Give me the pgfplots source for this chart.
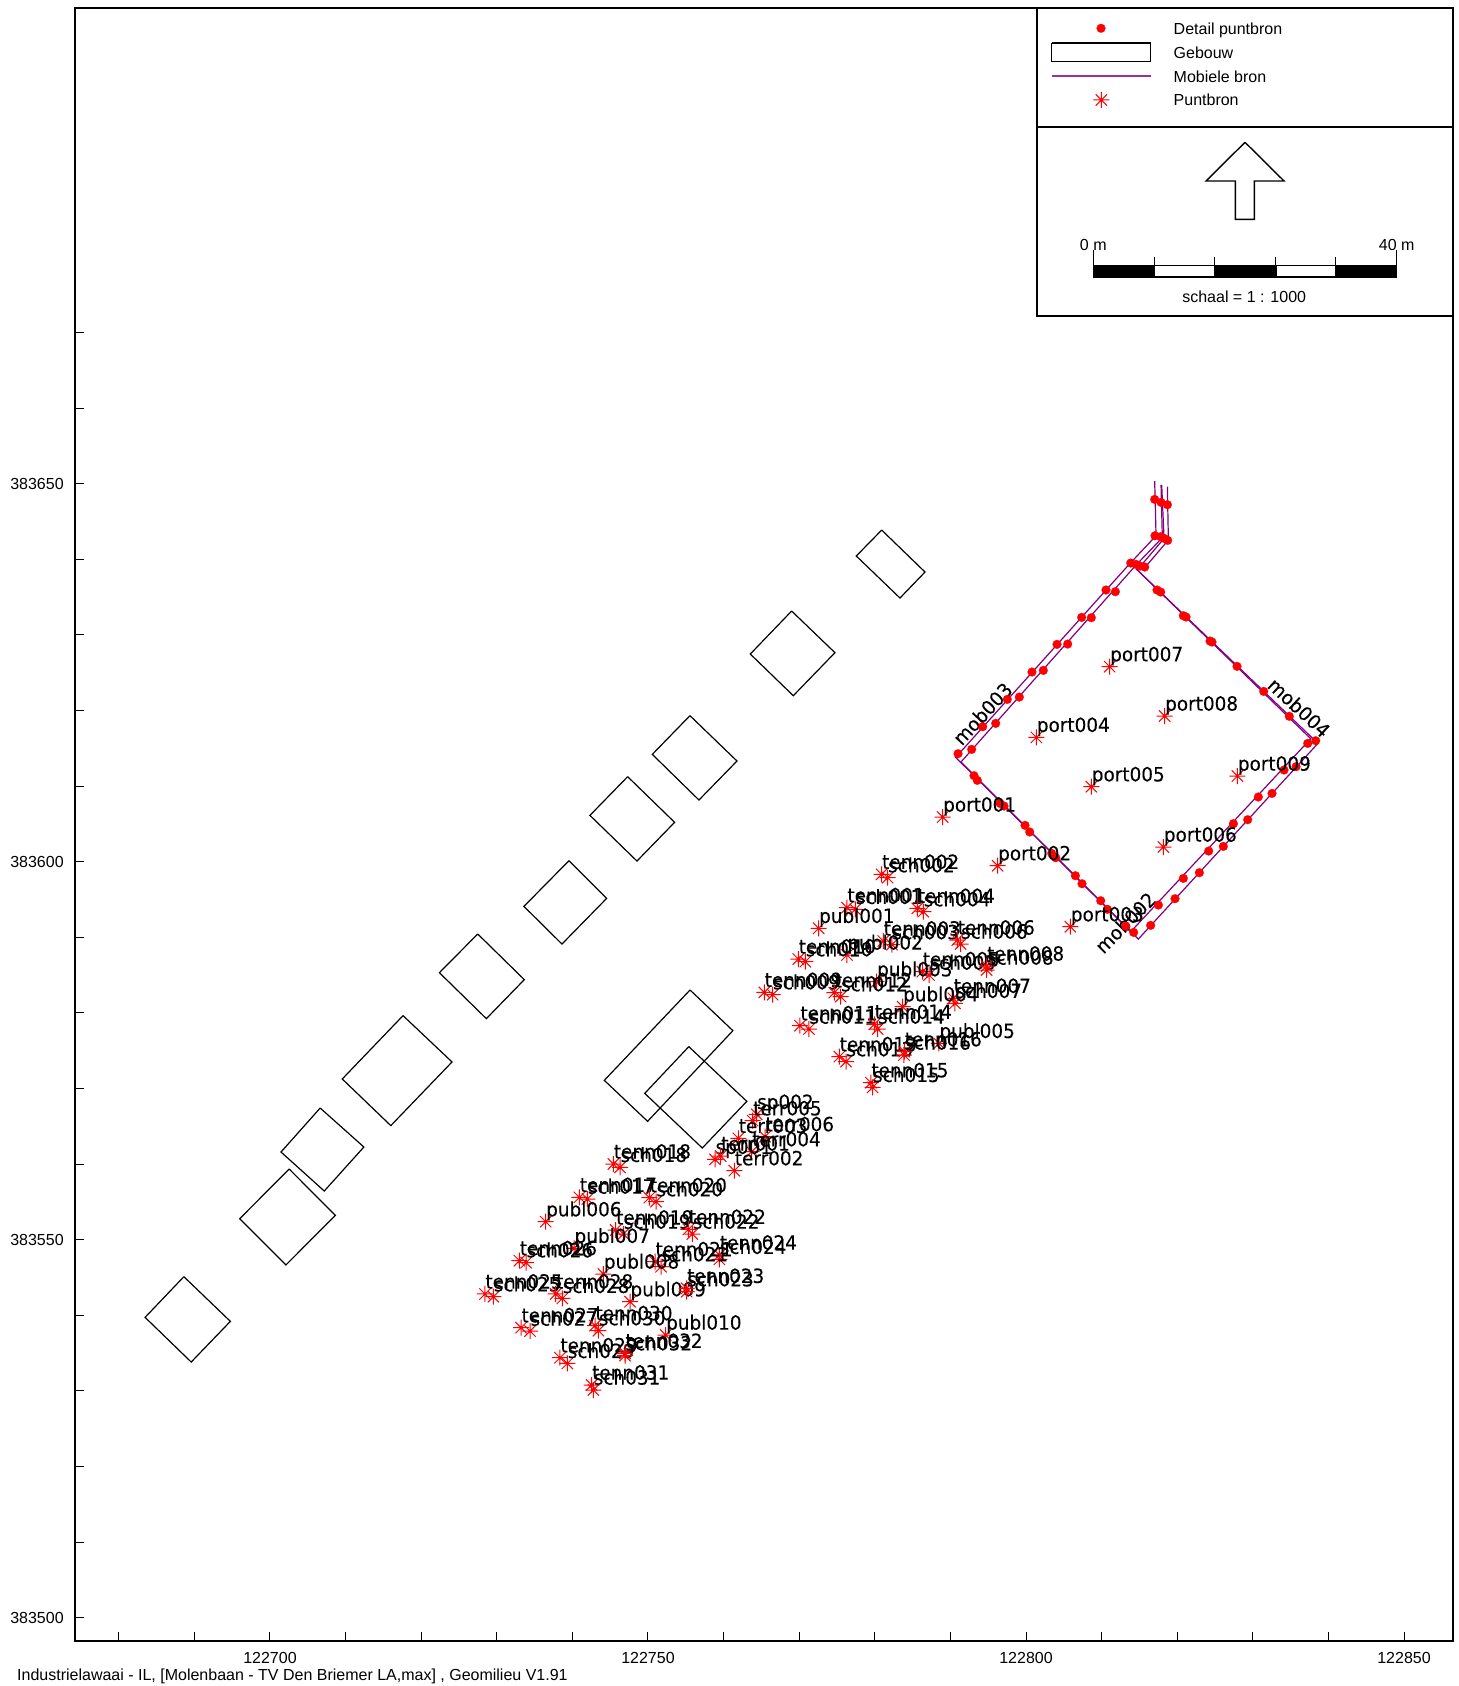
\documentclass[border=0pt]{standalone}
\usepackage{fontspec}
\setmainfont{Liberation Sans}
\newfontfamily\lblfont[FakeStretch=0.94,FakeBold=0.15]{DejaVu Sans}
\usepackage{pgfplots}
\usepackage{pgfplotstable}
\pgfplotsset{compat=1.18}

\definecolor{mobiel}{HTML}{800080}

\tikzset{
  txt/.style={anchor=base west, inner sep=0pt, font=\fontsize{8}{10}\selectfont},
  ctxt/.style={anchor=base, inner sep=0pt, font=\fontsize{8}{10}\selectfont},
}

% eight armed star for the point sources
\pgfdeclareplotmark{star8}{%
  \pgfmathsetlengthmacro{\dd}{0.7071*\pgfplotmarksize}%
  \pgfpathmoveto{\pgfqpoint{-\pgfplotmarksize}{0pt}}\pgfpathlineto{\pgfqpoint{\pgfplotmarksize}{0pt}}%
  \pgfpathmoveto{\pgfqpoint{0pt}{-\pgfplotmarksize}}\pgfpathlineto{\pgfqpoint{0pt}{\pgfplotmarksize}}%
  \pgfpathmoveto{\pgfqpoint{-\dd}{-\dd}}\pgfpathlineto{\pgfqpoint{\dd}{\dd}}%
  \pgfpathmoveto{\pgfqpoint{-\dd}{\dd}}\pgfpathlineto{\pgfqpoint{\dd}{-\dd}}%
  \pgfusepathqstroke}

\pgfplotstableread{
x y label
122811.07 383625.80 port007
122818.34 383619.27 port008
122801.37 383616.45 port004
122808.64 383609.92 port005
122827.96 383611.33 port009
122788.98 383605.91 port001
122818.17 383601.94 port006
122796.25 383599.47 port002
122805.87 383591.40 port003
122780.90 383598.33 tenn002
122781.70 383597.89 sch002
122776.32 383593.92 tenn001
122777.42 383593.70 sch001
122785.62 383593.83 tenn004
122786.42 383593.39 sch004
122772.57 383591.19 publ001
122781.12 383589.51 tenn003
122782.27 383589.03 sch003
122776.32 383587.66 publ002
122790.91 383589.64 tenn006
122791.35 383589.11 sch006
122769.88 383587.13 tenn010
122770.81 383586.78 sch010
122786.28 383585.45 tenn005
122787.17 383585.01 sch005
122780.24 383584.13 publ003
122794.79 383586.20 tenn008
122794.79 383585.67 sch008
122765.38 383582.72 tenn009
122766.49 383582.41 sch009
122774.64 383582.68 tenn012
122775.48 383582.15 sch012
122790.38 383581.93 tenn007
122790.60 383581.27 sch007
122783.68 383580.82 publ004
122770.10 383578.31 tenn011
122771.29 383577.87 sch011
122779.93 383578.49 tenn014
122780.38 383577.87 sch014
122788.49 383575.97 publ005
122775.30 383574.21 tenn013
122776.19 383573.55 sch013
122783.90 383574.87 tenn016
122783.86 383574.43 sch016
122779.49 383570.77 tenn015
122779.71 383570.15 sch015
122764.38 383566.58 sp002
122763.85 383565.74 terr005
122761.95 383563.41 terr003
122765.48 383563.63 terr006
122763.72 383561.64 terr004
122761.42 383559.13 terr002
122758.87 383560.63 sp001
122759.62 383561.07 terr001
122745.42 383560.01 tenn018
122746.30 383559.57 sch018
122740.92 383555.60 tenn017
122741.98 383555.38 sch017
122750.18 383555.56 tenn020
122751.06 383555.03 sch020
122736.47 383552.38 publ006
122745.73 383551.28 tenn019
122746.74 383550.75 sch019
122755.34 383551.37 tenn022
122755.87 383550.75 sch022
122740.22 383548.86 publ007
122732.99 383547.23 tenn026
122733.87 383546.96 sch026
122759.44 383547.97 tenn024
122759.44 383547.40 sch024
122750.93 383547.09 tenn021
122751.72 383546.43 sch021
122744.10 383545.46 publ008
122728.44 383542.82 tenn025
122729.55 383542.46 sch025
122737.79 383542.82 tenn028
122738.67 383542.24 sch028
122747.62 383541.80 publ009
122755.12 383543.57 tenn023
122755.12 383543.12 sch023
122733.21 383538.36 tenn027
122734.40 383537.92 sch027
122742.99 383538.63 tenn030
122743.44 383537.97 sch030
122752.34 383537.39 publ010
122738.36 383534.39 tenn029
122739.33 383533.64 sch029
122746.96 383534.97 tenn032
122746.96 383534.66 sch032
122742.55 383530.78 tenn031
122742.77 383530.12 sch031
}\puntbron

\pgfplotstableread{
x y
122817.02 383647.93
122817.86 383647.53
122818.70 383647.22
122817.06 383643.12
122817.81 383642.99
122818.26 383642.77
122818.74 383642.51
122813.85 383639.51
122814.55 383639.33
122815.08 383639.11
122815.70 383638.98
122810.58 383635.94
122807.36 383632.32
122804.10 383628.75
122800.79 383625.09
122797.53 383621.47
122794.27 383617.86
122791.01 383614.29
122811.82 383635.72
122808.64 383632.28
122805.51 383628.79
122802.29 383625.31
122799.12 383621.78
122795.99 383618.30
122792.81 383614.86
122793.12 383611.38
122793.56 383610.76
122796.56 383607.72
122797.09 383607.37
122799.87 383604.81
122800.49 383603.93
122803.40 383601.10
122803.93 383600.53
122806.53 383598.15
122807.41 383597.09
122809.88 383594.84
122810.76 383593.70
122813.18 383591.49
122814.24 383590.65
122817.51 383594.27
122820.81 383597.80
122824.16 383601.41
122827.43 383605.03
122830.73 383608.56
122834.13 383612.13
122837.26 383615.65
122816.49 383591.58
122819.71 383595.11
122822.93 383598.55
122826.10 383602.03
122829.32 383605.56
122832.54 383609.04
122835.72 383612.57
122838.32 383616.01
122817.33 383635.94
122817.81 383635.67
122820.81 383632.54
122821.17 383632.37
122824.34 383629.19
122824.60 383629.06
122827.91 383625.84
122831.44 383622.53
122834.83 383619.23
}\detail

\begin{document}
\begin{tikzpicture}
\path[use as bounding box] (0,0) rectangle (729.5pt,843pt);

\begin{axis}[
  at={(37.35pt,22.5pt)}, anchor=south west,
  scale only axis, width=689pt, height=816.35pt,
  xmin=122674.17, xmax=122856.44,
  ymin=383496.92, ymax=383712.89,
  axis line style={line width=0.9pt},
  tick align=inside, xtick pos=bottom, ytick pos=left,
  major tick length=4.5pt, minor tick length=4.5pt,
  tick style={black, line width=0.5pt},
  xtick={122700,122750,122800,122850},
  xticklabels={122700,122750,122800,122850},
  minor xtick={122680,122690,122710,122720,122730,122740,122760,122770,122780,122790,122810,122820,122830,122840},
  ytick={383500,383550,383600,383650},
  yticklabels={383500,383550,383600,383650},
  minor ytick={383510,383520,383530,383540,383560,383570,383580,383590,383610,383620,383630,383640,383660,383670},
  tick label style={font=\fontsize{8}{10}\selectfont},
  x tick label style={anchor=base, inner sep=0pt, yshift=-11.15pt},
  y tick label style={anchor=east, inner sep=0pt, xshift=-5.3pt},
  clip=false,
  bld/.style={black, line width=0.6pt, line join=miter, no marks},
  mob/.style={mobiel, line width=0.6pt, no marks},
]
% gebouwen
\addplot[bld] coordinates {(122780.91,383643.87) (122786.64,383638.32) (122783.33,383634.88) (122777.55,383640.44) (122780.91,383643.87)};
\addplot[bld] coordinates {(122769.00,383633.16) (122774.73,383627.65) (122769.22,383621.96) (122763.53,383627.47) (122769.00,383633.16)};
\addplot[bld] coordinates {(122755.55,383619.32) (122761.77,383613.32) (122756.74,383608.16) (122750.57,383614.20) (122755.55,383619.32)};
\addplot[bld] coordinates {(122747.31,383611.25) (122753.52,383605.21) (122748.54,383600.09) (122742.32,383606.13) (122747.31,383611.25)};
\addplot[bld] coordinates {(122739.55,383600.14) (122744.53,383595.15) (122738.62,383589.11) (122733.59,383594.09) (122739.55,383600.14)};
\addplot[bld] coordinates {(122727.48,383590.44) (122733.64,383584.40) (122728.62,383579.24) (122722.41,383585.32) (122727.48,383590.44)};
\addplot[bld] coordinates {(122717.60,383579.64) (122724.08,383573.51) (122715.98,383565.09) (122709.56,383571.26) (122717.60,383579.64)};
\addplot[bld] coordinates {(122706.64,383567.42) (122712.42,383562.26) (122707.18,383556.44) (122701.46,383561.60) (122706.64,383567.42)};
\addplot[bld] coordinates {(122702.54,383559.35) (122708.64,383553.22) (122702.11,383546.66) (122696.00,383552.78) (122702.54,383559.35)};
\addplot[bld] coordinates {(122688.61,383545.11) (122694.76,383539.20) (122689.58,383533.82) (122683.48,383539.73) (122688.61,383545.11)};
\addplot[bld] coordinates {(122755.56,383583.03) (122761.23,383577.65) (122749.95,383565.66) (122744.22,383571.08) (122755.56,383583.03)};
\addplot[bld] coordinates {(122755.40,383575.54) (122763.07,383568.30) (122757.18,383562.13) (122749.57,383569.36) (122755.40,383575.54)};

% mobiele bronnen
\addplot[mob] coordinates {(122817.02,383650.35) (122817.20,383643.12) (122813.76,383639.46) (122790.70,383613.80) (122813.85,383590.74) (122837.66,383616.27) (122814.64,383638.67) (122815.08,383639.02) (122818.26,383642.77) (122817.95,383649.83)};
\addplot[mob] coordinates {(122817.86,383649.83) (122818.03,383642.86) (122814.55,383639.24) (122791.40,383613.19) (122814.86,383589.77) (122838.54,383615.57) (122837.92,383616.32) (122814.64,383638.67) (122815.74,383638.94) (122818.83,383642.55) (122818.70,383649.61)};

% detail puntbron
\addplot[only marks, mark=*, mark size=2.2pt, mark options={fill=red, draw=red, line width=0.1pt}] table[x=x, y=y] {\detail};

% puntbron, met namen
\addplot[only marks, mark=star8, mark size=4pt, mark options={draw=red, line width=0.5pt},
  point meta=explicit symbolic, nodes near coords,
  every node near coord/.style={anchor=base west, inner sep=0pt, yshift=2.7pt, text=black,
    font=\fontsize{9.8}{11}\lblfont}]
  table[x=x, y=y, meta=label] {\puntbron};

\node[rotate=47, anchor=base west, inner sep=0pt, font=\fontsize{9.8}{11}\lblfont] at (axis cs:122791.49,383615.21) {mob003};
\node[rotate=-43, anchor=base west, inner sep=0pt, font=\fontsize{9.8}{11}\lblfont] at (axis cs:122831.75,383623.15) {mob004};
\node[rotate=45, anchor=base west, inner sep=0pt, font=\fontsize{9.8}{11}\lblfont] at (axis cs:122810.23,383587.66) {mob002};
\end{axis}

% legenda, noordpijl en schaalstok: in pixels van de pagina
\begin{axis}[
  at={(0pt,0pt)}, anchor=south west,
  scale only axis, width=729.5pt, height=843pt,
  xmin=0, xmax=1459, ymin=0, ymax=1686, y dir=reverse,
  hide axis, clip=false,
  pane/.style={black, fill=white, line width=0.9pt, no marks},
  thin line/.style={black, line width=0.5pt, no marks},
]
\addplot[pane] coordinates {(1036.7,8.3) (1452.7,8.3) (1452.7,127) (1036.7,127) (1036.7,8.3)};
\addplot[pane] coordinates {(1036.7,127) (1452.7,127) (1452.7,316) (1036.7,316) (1036.7,127)};

\addplot[only marks, mark=*, mark size=2.2pt, mark options={fill=red, draw=red, line width=0.1pt}] coordinates {(1101,28.3)};
\addplot[black, line width=0.6pt, fill=white, no marks] coordinates {(1051.7,43) (1150.3,43) (1150.3,61.3) (1051.7,61.3) (1051.7,43)};
\addplot[color=mobiel, line width=0.7pt, no marks, opacity=0.8] coordinates {(1051.7,76) (1150.7,76)};
\addplot[only marks, mark=star8, mark size=4pt, mark options={draw=red, line width=0.5pt}] coordinates {(1101.3,100)};

\node[txt] at (axis cs:1173.3,34.5) {Detail puntbron};
\node[txt] at (axis cs:1173.3,58.3) {Gebouw};
\node[txt] at (axis cs:1173.3,82.3) {Mobiele bron};
\node[txt] at (axis cs:1173.3,105.3) {Puntbron};

% noordpijl
\addplot[black, fill=white, line width=0.7pt, no marks] coordinates {(1245,142.3) (1284,181) (1254.3,181) (1254.3,219.3) (1235.3,219.3) (1235.3,181) (1206,181) (1245,142.3)};

% schaalstok
\addplot[black, fill=black, draw=black, line width=0.3pt, no marks] coordinates {(1093.3,265) (1154.3,265) (1154.3,277.3) (1093.3,277.3) (1093.3,265)};
\addplot[black, fill=white, draw=black, line width=0.8pt, no marks] coordinates {(1154.3,265.5) (1214.3,265.5) (1214.3,276.8) (1154.3,276.8) (1154.3,265.5)};
\addplot[black, fill=black, draw=black, line width=0.3pt, no marks] coordinates {(1214.3,265) (1275.7,265) (1275.7,277.3) (1214.3,277.3) (1214.3,265)};
\addplot[black, fill=white, draw=black, line width=0.8pt, no marks] coordinates {(1275.7,265.5) (1335.7,265.5) (1335.7,276.8) (1275.7,276.8) (1275.7,265.5)};
\addplot[black, fill=black, draw=black, line width=0.3pt, no marks] coordinates {(1335.7,265) (1396.7,265) (1396.7,277.3) (1335.7,277.3) (1335.7,265)};
\addplot[thin line] coordinates {(1093.8,250) (1093.8,265)};
\addplot[thin line] coordinates {(1154.3,257.3) (1154.3,265)};
\addplot[thin line] coordinates {(1214.3,257.3) (1214.3,265)};
\addplot[thin line] coordinates {(1275.7,257.3) (1275.7,265)};
\addplot[thin line] coordinates {(1335.7,257.3) (1335.7,265)};
\addplot[thin line] coordinates {(1396.2,250) (1396.2,265)};

\node[ctxt] at (axis cs:1093.3,250.3) {0 m};
\node[ctxt] at (axis cs:1396.7,250.3) {40 m};
\node[ctxt] at (axis cs:1244.2,302.7) {schaal = 1 : 1000};

\node[txt] at (axis cs:16.8,1680) {Industrielawaai - IL, [Molenbaan - TV Den Briemer LA,max] , Geomilieu V1.91};
\end{axis}
\end{tikzpicture}
\end{document}
